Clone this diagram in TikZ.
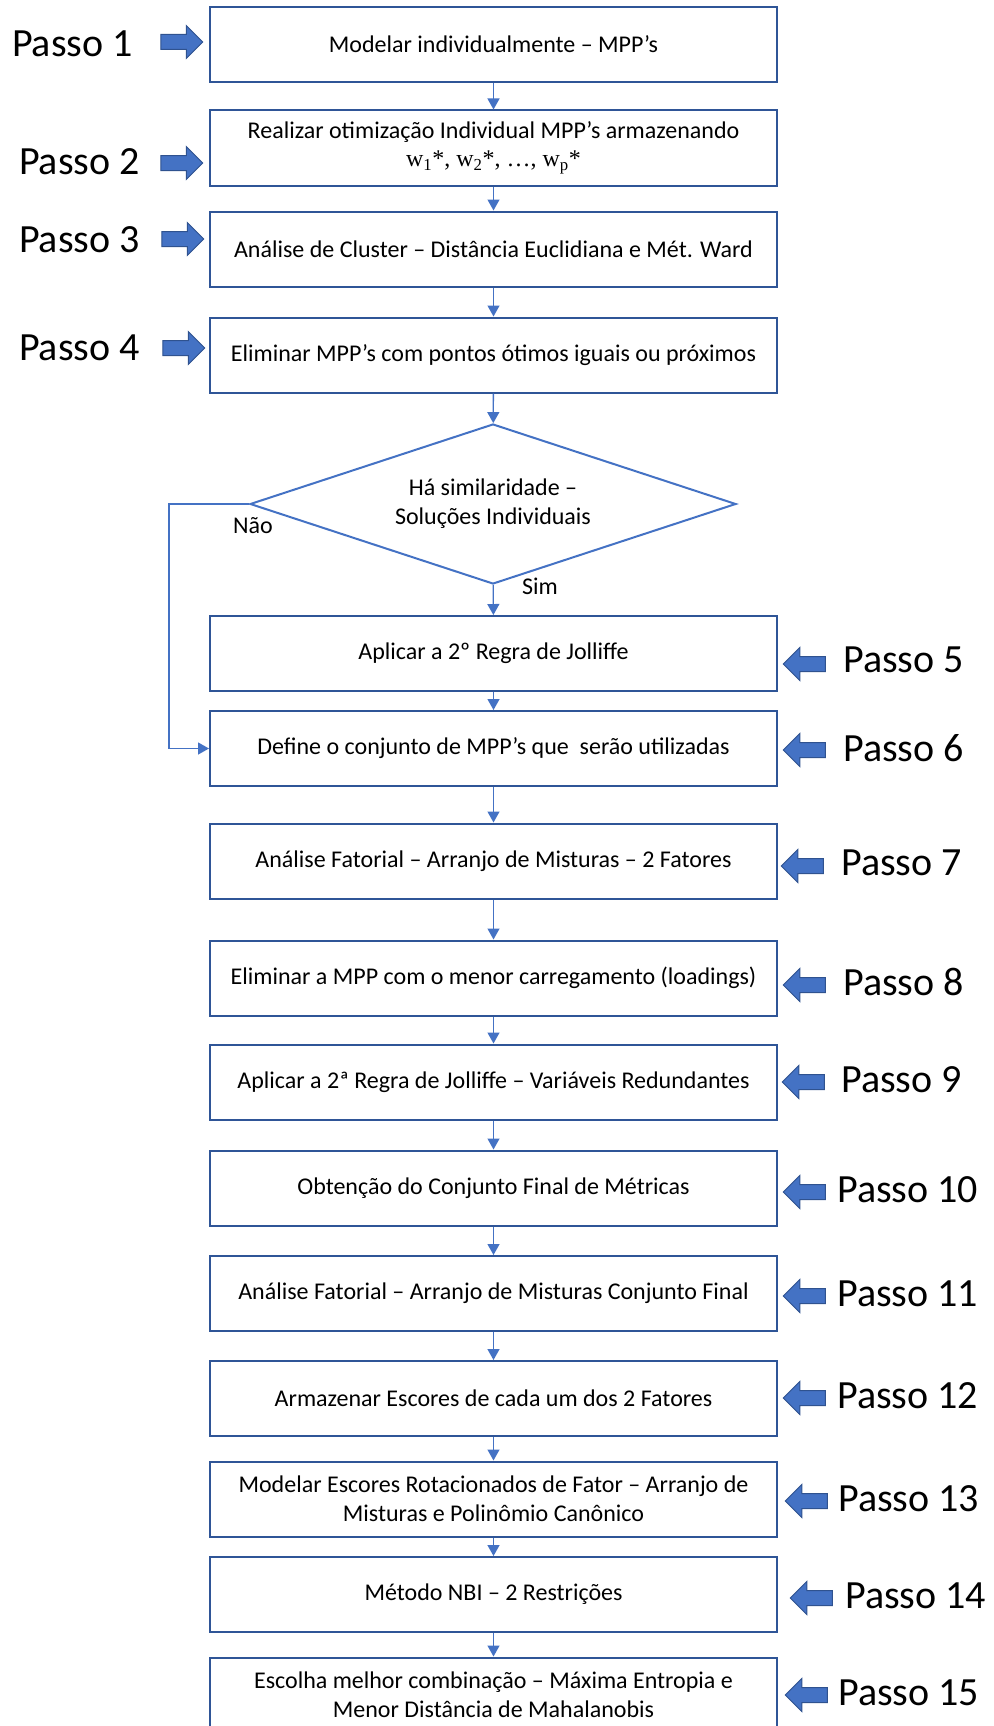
\documentclass[tikz,border=0pt]{standalone}
\usepackage{fontspec}
\setmainfont{Carlito}
\newfontfamily\timesfont{Liberation Serif}
\usetikzlibrary{arrows.meta,shapes.geometric,shapes.arrows}
\definecolor{BoxLine}{RGB}{47,85,151}
\definecolor{LinkBlue}{RGB}{68,114,196}
\definecolor{ArrowLine}{RGB}{47,82,143}

\tikzset{
  stepbox/.style={draw=BoxLine, line width=2pt, minimum width=567pt, minimum height=75pt, inner sep=0pt, align=center, font=\fontsize{24}{29}\selectfont},
  decision/.style={diamond, draw=LinkBlue, line width=2pt, aspect=3, minimum width=486pt, minimum height=160pt, inner sep=0pt, align=center, font=\fontsize{24}{29}\selectfont},
  passo/.style={inner sep=0pt, font=\fontsize{40}{48}\selectfont},
  seta/.style={single arrow, draw=ArrowLine, fill=LinkBlue, line width=1pt, minimum height=42pt, single arrow head extend=9pt, inner sep=7pt, single arrow head indent=0pt},
  link/.style={-{Triangle[width=12pt,length=11pt]}, draw=LinkBlue, line width=1.3pt},
  small/.style={inner sep=0pt, font=\fontsize{24}{29}\selectfont}
}

\begin{document}
\begin{tikzpicture}[x=1pt,y=-1pt]
    \useasboundingbox (0,0) rectangle (993,1726);

    \node[stepbox] (box1) at (493.5,44.5) {Modelar individualmente -- MPP’s};
    \node[stepbox] (box2) at (493.5,148) {Realizar otimização Individual MPP’s armazenando\\[-1pt]{\timesfont w\textsubscript{1}*, w\textsubscript{2}*, \ldots, w\textsubscript{p}*}};
    \node[stepbox] (box3) at (493.5,249) {Análise de Cluster -- Distância Euclidiana e Mét. Ward};
    \node[stepbox] (box4) at (493.5,355) {Eliminar MPP’s com pontos ótimos iguais ou próximos};
    \node[decision] (dec) at (493,504) {Há similaridade --\\Soluções Individuais};
    \node[stepbox] (box5) at (493.5,653.5) {Aplicar a 2º Regra de Jolliffe};
    \node[stepbox] (box6) at (493.5,748.5) {Define o conjunto de MPP’s que~ serão utilizadas};
    \node[stepbox] (box7) at (493.5,861) {Análise Fatorial -- Arranjo de Misturas -- 2 Fatores};
    \node[stepbox] (box8) at (493.5,978) {Eliminar a MPP com o menor carregamento (loadings)};
    \node[stepbox] (box9) at (493.5,1082) {Aplicar a 2ª Regra de Jolliffe -- Variáveis Redundantes};
    \node[stepbox] (box10) at (493.5,1188) {Obtenção do Conjunto Final de Métricas};
    \node[stepbox] (box11) at (493.5,1293.5) {Análise Fatorial -- Arranjo de Misturas Conjunto Final};
    \node[stepbox] (box12) at (493.5,1398.5) {Armazenar Escores de cada um dos 2 Fatores};
    \node[stepbox] (box13) at (493.5,1499) {Modelar Escores Rotacionados de Fator -- Arranjo de\\Misturas e Polinômio Canônico};
    \node[stepbox] (box14) at (493.5,1594.5) {Método NBI -- 2 Restrições};
    \node[stepbox] (box15) at (493.5,1695) {Escolha melhor combinação -- Máxima Entropia e\\Menor Distância de Mahalanobis};

    \node[small] (nao) at (253,526) {Não};
    \node[small] (sim) at (540,586) {Sim};

    \node[passo, anchor=east] (p1) at (133,44) {Passo 1};
    \node[passo, anchor=east] (p2) at (140,162) {Passo 2};
    \node[passo, anchor=east] (p3) at (140,240) {Passo 3};
    \node[passo, anchor=east] (p4) at (140,348) {Passo 4};
    \node[seta] (s1) at (178,42) {};
    \node[seta] (s2) at (178,163) {};
    \node[seta] (s3) at (179,239) {};
    \node[seta] (s4) at (180,348) {};

    \node[passo, anchor=west] (p5) at (843,660) {Passo 5};
    \node[passo, anchor=west] (p6) at (843,748) {Passo 6};
    \node[passo, anchor=west] (p7) at (841,863) {Passo 7};
    \node[passo, anchor=west] (p8) at (843,982) {Passo 8};
    \node[passo, anchor=west] (p9) at (841,1080) {Passo 9};
    \node[passo, anchor=west] (p10) at (837,1190) {Passo 10};
    \node[passo, anchor=west] (p11) at (837,1294) {Passo 11};
    \node[passo, anchor=west] (p12) at (837,1396) {Passo 12};
    \node[passo, anchor=west] (p13) at (838,1499) {Passo 13};
    \node[passo, anchor=west] (p14) at (845,1596) {Passo 14};
    \node[passo, anchor=west] (p15) at (838,1693) {Passo 15};
    \node[seta, shape border rotate=180] (s5) at (808,664) {};
    \node[seta, shape border rotate=180] (s6) at (808,750) {};
    \node[seta, shape border rotate=180] (s7) at (806,866) {};
    \node[seta, shape border rotate=180] (s8) at (808,985) {};
    \node[seta, shape border rotate=180] (s9) at (807,1082) {};
    \node[seta, shape border rotate=180] (s10) at (808,1192) {};
    \node[seta, shape border rotate=180] (s11) at (808,1296) {};
    \node[seta, shape border rotate=180] (s12) at (808,1398) {};
    \node[seta, shape border rotate=180] (s13) at (810,1501) {};
    \node[seta, shape border rotate=180] (s14) at (815,1598) {};
    \node[seta, shape border rotate=180] (s15) at (810,1695) {};

    \coordinate (bend) at (169,748.5);

    \draw[link] (box1) to (box2);
    \draw[link] (box2) to (box3);
    \draw[link] (box3) to (box4);
    \draw[link] (box4) to (dec);
    \draw[link] (dec) to (box5);
    \draw[link] (dec.west) -| (bend) -- (box6.west);
    \draw[link] (box5) to (box6);
    \draw[link] (box6) to (box7);
    \draw[link] (box7) to (box8);
    \draw[link] (box8) to (box9);
    \draw[link] (box9) to (box10);
    \draw[link] (box10) to (box11);
    \draw[link] (box11) to (box12);
    \draw[link] (box12) to (box13);
    \draw[link] (box13) to (box14);
    \draw[link] (box14) to (box15);

\end{tikzpicture}
\end{document}
